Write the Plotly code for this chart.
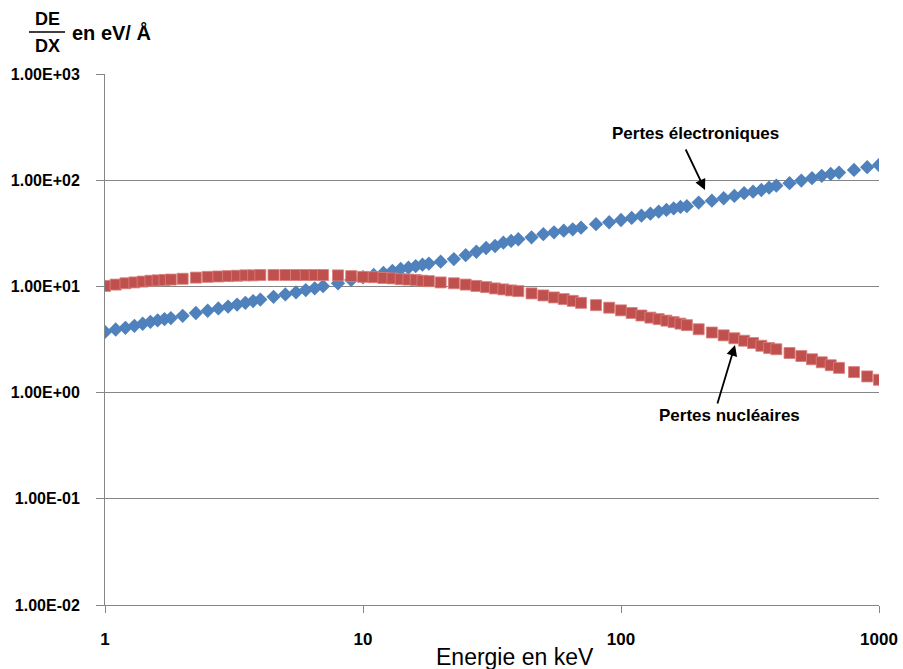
import plotly.graph_objects as go

energy_kev = [1, 1.1, 1.2, 1.3, 1.4, 1.5, 1.6, 1.7, 1.8,
              2, 2.25, 2.5, 2.75, 3, 3.25, 3.5, 3.75,
              4, 4.5, 5, 5.5, 6, 6.5, 7, 8, 9,
              10, 11, 12, 13, 14, 15, 16, 17, 18,
              20, 22.5, 25, 27.5, 30, 32.5, 35, 37.5,
              40, 45, 50, 55, 60, 65, 70, 80, 90,
              100, 110, 120, 130, 140, 150, 160, 170, 180,
              200, 225, 250, 275, 300, 325, 350, 375,
              400, 450, 500, 550, 600, 650, 700, 800, 900, 1000]

pertes_electroniques = [3.73, 3.93, 4.07, 4.25, 4.45, 4.63, 4.79, 4.92, 5.03,
                        5.28, 5.62, 5.90, 6.20, 6.45, 6.74, 7.00, 7.28,
                        7.52, 7.98, 8.40, 8.80, 9.23, 9.60, 10.05, 10.7, 11.5,
                        12.2, 12.8, 13.4, 14.0, 14.6, 15.0, 15.5, 16.0, 16.4,
                        17.1, 18.1, 19.7, 21.2, 23.0, 24.0, 25.8, 26.8,
                        27.8, 29.0, 31.0, 32.3, 33.5, 34.5, 35.7, 38.5, 40.2,
                        42.2, 44.1, 46.3, 48.4, 50.6, 52.5, 54.2, 56.0, 57.0,
                        61.5, 64.2, 67.6, 71.1, 75.4, 78.0, 80.9, 85.1,
                        88.9, 93.7, 99.1, 104.4, 109.9, 114.6, 118, 125, 132.6, 139]

pertes_nucleaires = [10.1, 10.4, 10.7, 10.9, 11.1, 11.3, 11.4, 11.5, 11.6,
                     11.8, 12.1, 12.3, 12.4, 12.5, 12.6, 12.7, 12.7,
                     12.8, 12.8, 12.8, 12.8, 12.8, 12.8, 12.8, 12.7, 12.5,
                     12.3, 12.2, 12.0, 11.9, 11.7, 11.6, 11.5, 11.3, 11.2,
                     10.9, 10.7, 10.4, 10.1, 9.85, 9.57, 9.37, 9.17,
                     9.03, 8.59, 8.22, 7.87, 7.59, 7.31, 7.00, 6.66, 6.30,
                     5.95, 5.62, 5.32, 5.08, 4.92, 4.76, 4.61, 4.46, 4.32,
                     3.95, 3.68, 3.46, 3.25, 3.08, 2.93, 2.76, 2.63,
                     2.56, 2.36, 2.21, 2.06, 1.93, 1.81, 1.71, 1.56, 1.42, 1.32]

x_tickvals = [1, 10, 100, 1000]
x_ticktext = ["1", "10", "100", "1000"]
y_tickvals = [0.01, 0.1, 1, 10, 100, 1000]
y_ticktext = ["1.00E-02", "1.00E-01", "1.00E+00", "1.00E+01", "1.00E+02", "1.00E+03"]

W, H = 903, 669
L, R, T, B = 105, 24, 74, 64
pw, ph = W - L - R, H - T - B


def px(x):
    return (x - L) / pw


def py(y):
    return (H - B - y) / ph


FONT = "Liberation Sans"

fig = go.Figure()
fig.add_trace(go.Scatter(
    x=energy_kev, y=pertes_electroniques, mode="markers",
    name="Pertes électroniques",
    marker=dict(symbol="diamond", size=11, color="#4F81BD", line=dict(width=0)),
))
fig.add_trace(go.Scatter(
    x=energy_kev, y=pertes_nucleaires, mode="markers",
    name="Pertes nucléaires",
    marker=dict(symbol="square", size=11, color="#C0504D", line=dict(width=0.8, color="#D9807D")),
))

fig.update_layout(
    width=W, height=H,
    margin=dict(l=L, r=R, t=T, b=B, autoexpand=False),
    paper_bgcolor="white", plot_bgcolor="white",
    showlegend=False,
    font=dict(family=FONT, color="black"),
    xaxis=dict(
        type="log", range=[0, 3], automargin=False,
        tickvals=x_tickvals, ticktext=x_ticktext,
        showgrid=False, zeroline=False,
        showline=True, linecolor="#868686", linewidth=1,
        ticks="outside", ticklen=7, tickcolor="#868686",
        tickfont=dict(family=FONT, size=17, color="black", weight="bold"),
        ticklabelstandoff=12,
    ),
    yaxis=dict(
        type="log", range=[-2, 3], automargin=False,
        tickvals=y_tickvals, ticktext=y_ticktext,
        showgrid=True, gridcolor="#868686", gridwidth=1,
        zeroline=False,
        showline=True, linecolor="#868686", linewidth=1,
        ticks="outside", ticklen=8, tickcolor="#868686",
        tickfont=dict(family=FONT, size=16, color="black", weight="bold"),
        ticklabelstandoff=13,
    ),
)


def label(text, x, y, size, xanchor="center"):
    return dict(text=text, x=px(x), y=py(y), xref="paper", yref="paper",
                xanchor=xanchor, yanchor="middle", showarrow=False,
                font=dict(size=size, color="black"))


annotations = [
    label("Energie en keV", 515, 657, 23),
    label("<b>DE</b>", 47, 19, 18),
    label("<b>DX</b>", 47, 46, 18),
    label("<b>en eV/ Å</b>", 70, 32, 20, xanchor="left"),
    label("<b>Pertes électroniques</b>", 695, 133, 17),
    label("<b>Pertes nucléaires</b>", 729, 415, 17),
    dict(text="", x=px(705), y=py(190), xref="paper", yref="paper",
         showarrow=True, ax=-20, ay=-42, arrowhead=2, arrowsize=1.2, arrowwidth=1.8,
         arrowcolor="black"),
    dict(text="", x=px(735), y=py(345), xref="paper", yref="paper",
         showarrow=True, ax=-18, ay=60, arrowhead=2, arrowsize=1.2, arrowwidth=1.8,
         arrowcolor="black"),
]
fig.update_layout(annotations=annotations)

fig.add_shape(type="line", xref="paper", yref="paper",
              x0=px(29), x1=px(65), y0=py(32), y1=py(32),
              line=dict(color="black", width=1.5))

fig.write_html("out.html", config={"displayModeBar": False},
               post_script="document.body.style.margin='0';")
